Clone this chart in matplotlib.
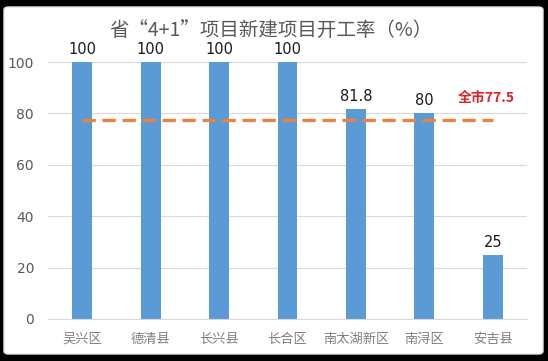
import matplotlib
matplotlib.use("Agg")
import matplotlib.pyplot as plt
from matplotlib.patches import FancyBboxPatch

plt.rcParams['font.family'] = ['Noto Sans CJK SC', 'DejaVu Sans']

# data
districts = ['吴兴区', '德清县', '长兴县', '长合区', '南太湖新区', '南浔区', '安吉县']
rates = [100, 100, 100, 100, 81.8, 80, 25]
rate_labels = ['100', '100', '100', '100', '81.8', '80', '25']
city_avg = 77.5
title = '省“4+1”项目新建项目开工率（%）'


def drawChart():
    fig = plt.figure(figsize=(5.48, 3.61), dpi=100, facecolor='black')

    # white card on black background
    card = FancyBboxPatch((4 / 548, 7 / 361), 539 / 548, 347 / 361,
                          boxstyle='round,pad=0,rounding_size=0.008',
                          transform=fig.transFigure, facecolor='white',
                          edgecolor='#e6e6e6', linewidth=1.0, zorder=-10)
    fig.patches.append(card)

    ax = fig.add_axes([48 / 548, 1 - 319 / 361, (527 - 48) / 548, (319 - 62) / 361])
    ax.set_facecolor('none')
    ax.set_zorder(2)

    x = list(range(len(districts)))
    ax.bar(x, rates, width=0.29, color='#5b9bd5', zorder=2)

    for xi, v, lab in zip(x, rates, rate_labels):
        ax.annotate(lab, (xi, v), xytext=(0, 12.5), textcoords='offset pixels',
                    ha='center', va='center', fontsize=10.5,
                    color='#1a1a1a', family=['DejaVu Sans'])

    ax.plot([0, len(districts) - 1], [city_avg, city_avg], color='#e9833f',
            linewidth=2.4, linestyle=(0, (4, 2)), zorder=3)
    ax.text(5.9, 86, '全市77.5', ha='center', va='center', fontsize=10,
            color='#d9262b', fontweight='bold')

    ax.set_xlim(-0.5, len(districts) - 0.5)
    ax.set_ylim(0, 100)
    ax.set_yticks([0, 20, 40, 60, 80, 100])
    ax.set_xticks(x)
    ax.set_xticklabels(districts, fontsize=9.5, color='#7f7f7f')
    ax.tick_params(axis='y', labelsize=10, labelcolor='#595959', length=0, pad=10)
    ax.tick_params(axis='x', length=0, pad=10)
    for lab in ax.get_yticklabels():
        lab.set_family(['DejaVu Sans'])
    ax.grid(axis='y', color='#d9d9d9', linewidth=0.8, zorder=0)
    ax.set_axisbelow(True)
    for s in ['top', 'right', 'left']:
        ax.spines[s].set_visible(False)
    ax.spines['bottom'].set_color('#d9d9d9')

    fig.text(271 / 548, 1 - 30 / 361, title, ha='center', va='center',
             fontsize=14, color='#595959')

    fig.savefig('out.png', dpi=100, facecolor='black')


def main():
    drawChart()


if __name__ == "__main__":
    main()
